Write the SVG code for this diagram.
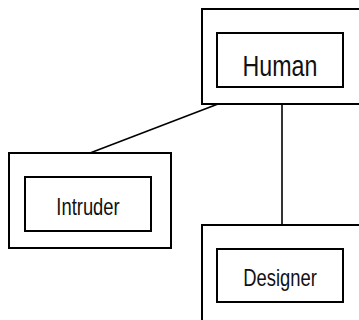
<svg xmlns="http://www.w3.org/2000/svg" width="359" height="320" viewBox="0 0 359 320">
  <style>
    .outer { fill: #ffffff; stroke: #000000; stroke-width: 2; }
    .inner { fill: #ffffff; stroke: #000000; stroke-width: 2; }
    .label { font-family: "Liberation Sans", Arial, sans-serif; fill: #111111; text-anchor: middle; }
    .edge { fill: none; stroke: #000000; stroke-width: 1.6; }
  </style>
  <rect width="359" height="320" fill="#ffffff"/>

  <!-- connectors -->
  <g id="connectors">
    <line class="edge" x1="218" y1="104" x2="90" y2="153"/>
    <line class="edge" x1="282" y1="104" x2="282" y2="225"/>
  </g>

  <g id="human">
    <rect class="outer" x="202" y="9" width="170" height="95"/>
    <rect class="inner" x="217" y="33" width="126" height="54"/>
    <text class="label" transform="translate(280,76) scale(0.8,1)" font-size="29">Human</text>
  </g>

  <g id="intruder">
    <rect class="outer" x="9" y="153" width="162" height="95"/>
    <rect class="inner" x="25" y="177" width="126" height="54"/>
    <text class="label" transform="translate(88,215) scale(0.8,1)" font-size="23">Intruder</text>
  </g>

  <g id="designer">
    <rect class="outer" x="202" y="225" width="170" height="110"/>
    <rect class="inner" x="217" y="249" width="126" height="53"/>
    <text class="label" transform="translate(280,286) scale(0.8,1)" font-size="23">Designer</text>
  </g>
</svg>
